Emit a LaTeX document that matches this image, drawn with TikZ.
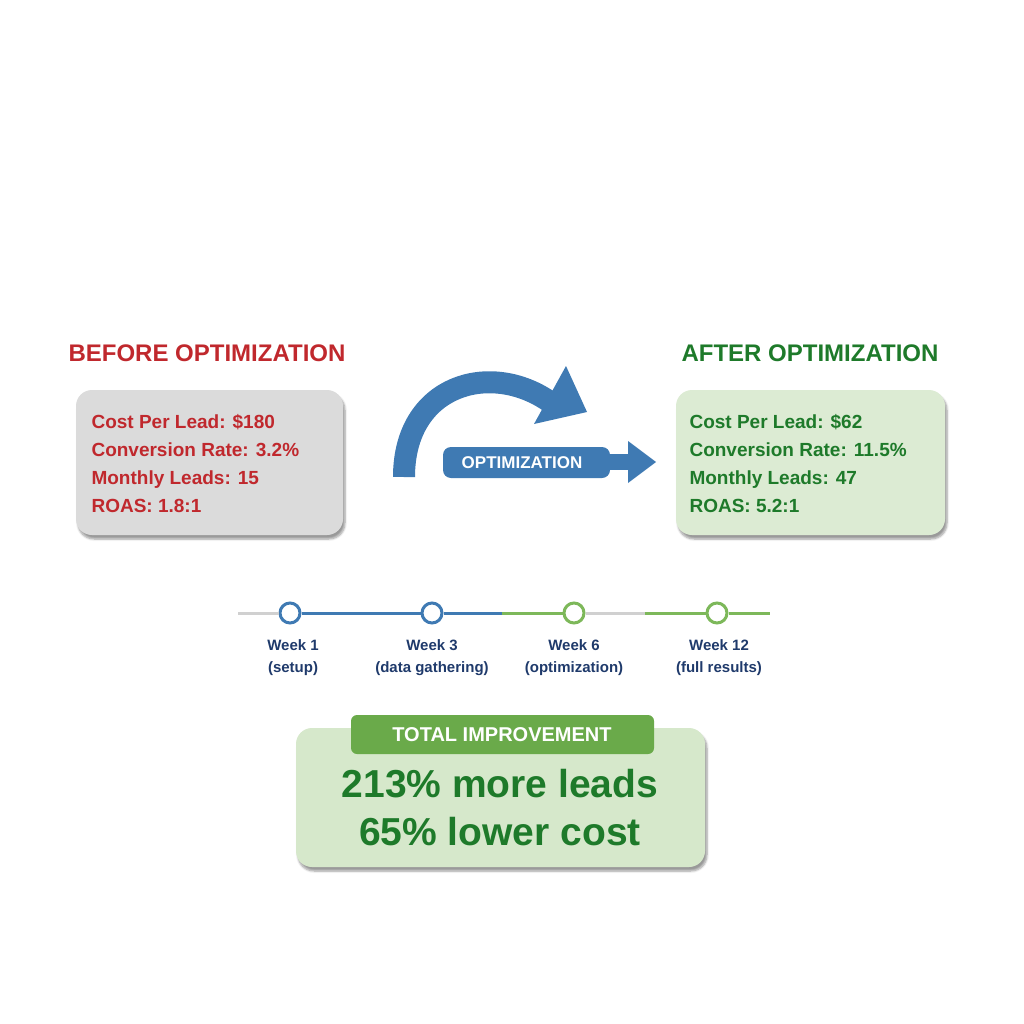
\documentclass[tikz,border=0pt]{standalone}
\usepackage{fontspec}
\setmainfont{Liberation Sans}
\usetikzlibrary{shadows.blur}
\definecolor{red1}{HTML}{C0282D}
\definecolor{grn1}{HTML}{1E7A2A}
\definecolor{navy}{HTML}{1F3A6B}
\definecolor{blu}{HTML}{3F7AB3}
\definecolor{lgrn}{HTML}{7DB85A}
\definecolor{lgray}{HTML}{D0D0D0}
\definecolor{cardgrn}{HTML}{DCEBD3}
\definecolor{totgrn}{HTML}{D6E8CB}
\definecolor{pill}{HTML}{6AAA4A}
\tikzset{
 card/.style={rounded corners=16pt, blur shadow={shadow blur steps=6,shadow xshift=2pt,shadow yshift=-4pt}},
 cardtxt/.style={font=\bfseries\fontsize{19}{28}\selectfont, align=left, anchor=north west},
 title/.style={font=\bfseries\fontsize{24}{28}\selectfont},
 wk/.style={font=\bfseries\fontsize{15}{22}\selectfont, text=navy, align=center, anchor=north},
 dot/.style={circle, draw, line width=3pt, fill=white, minimum size=20pt, inner sep=0pt},
}
\begin{document}
\begin{tikzpicture}[x=1pt,y=-1pt]
\useasboundingbox (0,0) rectangle (1024,1024);
% titles
\node[title, text=red1] (bt) at (207,353) {BEFORE OPTIMIZATION};
\node[title, text=grn1] (at) at (810,353) {AFTER OPTIMIZATION};
% cards
\fill[card, fill=black!14] (76,390) rectangle (343,535);
\node[cardtxt, text=red1] (bc) at (88,411) {Cost Per Lead: \$180\\Conversion Rate: 3.2\%\\Monthly Leads: 15\\ROAS: 1.8:1};
\fill[card, fill=cardgrn] (676,390) rectangle (945,535);
\node[cardtxt, text=grn1] (ac) at (686,411) {Cost Per Lead: \$62\\Conversion Rate: 11.5\%\\Monthly Leads: 47\\ROAS: 5.2:1};
% curved arrow
\draw[blu, line width=22pt] (404,477) .. controls (404,385) and (490,360) .. (550,402);
\fill[blu] (566,366) -- (587,412) -- (534,424) -- cycle;
% straight arrow
\fill[blu, rounded corners=8pt] (443,447) rectangle (610,478);
\fill[blu] (600,454) rectangle (630,470);
\fill[blu] (628,441) -- (656,462) -- (628,483) -- cycle;
\node[font=\bfseries\fontsize{17}{20}\selectfont, text=white] (opt) at (522,463) {OPTIMIZATION};
% timeline
\coordinate (t0) at (238,613);
\coordinate (t5) at (770,613);
\node[dot, draw=blu] (w1) at (290,613) {};
\node[dot, draw=blu] (w3) at (432,613) {};
\node[dot, draw=lgrn] (w6) at (574,613) {};
\node[dot, draw=lgrn] (w12) at (717,613) {};
\draw[lgray, line width=3pt] (t0) -- (w1.west);
\draw[blu, line width=3pt] (w1.east) -- (w3.west);
\draw[blu, line width=3pt] (w3.east) -- (502,613);
\draw[lgrn, line width=3pt] (502,613) -- (w6.west);
\draw[lgray, line width=3pt] (w6.east) -- (645,613);
\draw[lgrn, line width=3pt] (645,613) -- (w12.west);
\draw[lgrn, line width=3pt] (w12.east) -- (t5);
\node[wk] (l1) at (293,636) {Week 1\\(setup)};
\node[wk] (l3) at (432,636) {Week 3\\(data gathering)};
\node[wk] (l6) at (574,636) {Week 6\\(optimization)};
\node[wk] (l12) at (719,636) {Week 12\\(full results)};
% total
\fill[card, fill=totgrn] (296,728) rectangle (705,867);
\fill[fill=pill, rounded corners=6pt] (351,715) rectangle (654,754);
\node[font=\bfseries\fontsize{20}{24}\selectfont, text=white] (ti) at (502,735) {TOTAL IMPROVEMENT};
\node[font=\bfseries\fontsize{39}{48}\selectfont, text=grn1, align=center] (tt) at (500,808) {213\% more leads\\65\% lower cost};
\end{tikzpicture}
\end{document}
